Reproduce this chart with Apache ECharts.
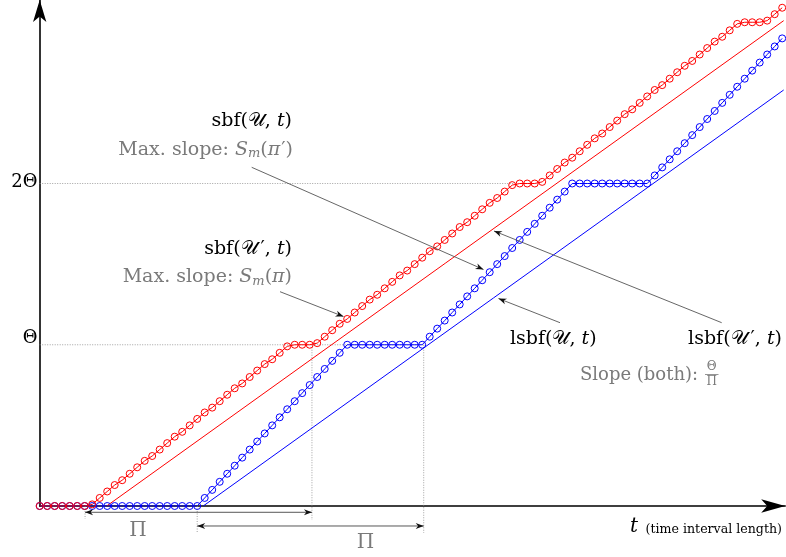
<!DOCTYPE html>
<html><head><meta charset="utf-8">
<script src="https://cdn.jsdelivr.net/npm/echarts@6/dist/echarts.min.js"></script>
<style>html,body{margin:0;padding:0;background:#fff}#c{width:786px;height:557px}</style>
</head><body><div id="c"></div>
<script>
// ---- data (x: time step index, one per marker; y: in units of Θ) ----
const steps = Array.from({length: 100}, (_, i) => i);
// sbf(U', t)  (red, circles)
const sbfUprime = [0,0,0,0,0,0,0,
 0.01,0.05,0.09,0.13,0.16,0.20,0.24,0.28,0.31,0.35,0.39,0.43,0.46,0.50,0.54,0.58,0.61,0.65,0.69,0.73,0.76,0.80,0.84,0.88,0.91,0.95,0.99,
 1,1,1,
 1.01,1.05,1.09,1.13,1.16,1.20,1.24,1.28,1.31,1.35,1.39,1.43,1.46,1.50,1.54,1.58,1.61,1.65,1.69,1.73,1.76,1.80,1.84,1.88,1.91,1.95,1.99,
 2,2,2,
 2.01,2.05,2.09,2.13,2.16,2.20,2.24,2.28,2.31,2.35,2.39,2.43,2.46,2.50,2.54,2.58,2.61,2.65,2.69,2.73,2.76,2.80,2.84,2.88,2.91,2.95,2.99,
 3,3,3,
 3.01,3.05,3.09];
// sbf(U, t)  (blue, circles)
const sbfU = [0,0,0,0,0,0,0,0,0,0,0,0,0,0,0,0,0,0,0,0,0,0,
 0.05,0.10,0.15,0.20,0.25,0.30,0.35,0.40,0.45,0.50,0.55,0.60,0.65,0.70,0.75,0.80,0.85,0.90,0.95,
 1,1,1,1,1,1,1,1,1,1,1,
 1.05,1.10,1.15,1.20,1.25,1.30,1.35,1.40,1.45,1.50,1.55,1.60,1.65,1.70,1.75,1.80,1.85,1.90,1.95,
 2,2,2,2,2,2,2,2,2,2,2,
 2.05,2.10,2.15,2.20,2.25,2.30,2.35,2.40,2.45,2.50,2.55,2.60,2.65,2.70,2.75,2.80,2.85,2.90];
// linear lower bounds (slope Θ/Π)
const lsbfUprime = [[8.93, 0], [99.2, 3.01]];
const lsbfU = [[21.8, 0], [99.2, 2.58]];
// guide lines (data units)
const guideH = [[[0, 1], [51.2, 1]], [[0, 2], [63.3, 2]]];
const guideV = [[[36.3, 1], [36.3, -0.087]], [[51.2, 1], [51.2, -0.167]], [[6.05, 0], [6.05, -0.08]], [[21, 0], [21, -0.167]]];
const spanArrows = [[[6.05, -0.039], [36.3, -0.039]], [[21, -0.124], [51.2, -0.124]]];
const yTickLabels = ['Θ', '2Θ'];

const RED = '#ff0000', BLUE = '#0000ff', GREY = '#7a7a7a', LEAD = '#555555';
const SERIF = '"DejaVu Serif", "Liberation Serif", serif';

const chart = echarts.init(document.getElementById('c'), null, {renderer: 'canvas'});
const circleSeries = (name, vals, col) => ({
  type: 'line', name, data: steps.map((t, i) => [t, vals[i]]),
  symbol: 'circle', symbolSize: 7, showSymbol: true, showAllSymbol: true,
  lineStyle: {color: col, width: 1}, itemStyle: {color: 'rgba(255,255,255,0)', borderColor: col, borderWidth: 1},
  emphasis: {disabled: true}, z: 3
});
chart.setOption({
  animation: false,
  backgroundColor: '#fff',
  grid: {left: 39.7, right: 0.8, top: 0, bottom: 51, containLabel: false},
  xAxis: {type: 'value', min: 0, max: 99.4,
    axisLine: {show: true, onZero: false, symbol: ['none', 'arrow'], symbolSize: [10, 24], lineStyle: {color: '#000', width: 1.6}},
    axisTick: {show: false}, axisLabel: {show: false}, splitLine: {show: false}},
  yAxis: {type: 'value', min: 0, max: 3.138,
    axisLine: {show: true, onZero: false, symbol: ['none', 'arrow'], symbolSize: [10, 22], lineStyle: {color: '#000', width: 1.6}},
    axisTick: {show: false}, axisLabel: {show: false}, splitLine: {show: false}},
  series: [
    {type: 'line', name: 'lsbf(U,t)', data: lsbfU, symbol: 'none', lineStyle: {color: BLUE, width: 1}, z: 2},
    {type: 'line', name: "lsbf(U',t)", data: lsbfUprime, symbol: 'none', lineStyle: {color: RED, width: 1}, z: 2},
    circleSeries('sbf(U,t)', sbfU, BLUE),
    circleSeries("sbf(U',t)", sbfUprime, RED)
  ]
});

const P = p => chart.convertToPixel({gridIndex: 0}, p);
const els = [];
function arrowHead(tip, from, L, W, col) {
  const dx = tip[0] - from[0], dy = tip[1] - from[1], d = Math.hypot(dx, dy);
  const ux = dx / d, uy = dy / d, nx = -uy, ny = ux;
  return {type: 'polygon', z: 6, shape: {points: [
    tip, [tip[0] - L * ux + W * nx, tip[1] - L * uy + W * ny],
    [tip[0] - 0.7 * L * ux, tip[1] - 0.7 * L * uy],
    [tip[0] - L * ux - W * nx, tip[1] - L * uy - W * ny]]}, style: {fill: col}};
}
function leader(from, tip) {
  els.push({type: 'line', z: 5, shape: {x1: from[0], y1: from[1], x2: tip[0], y2: tip[1]}, style: {stroke: LEAD, lineWidth: 0.9}});
  els.push(arrowHead(tip, from, 8, 3, '#111'));
}
guideH.concat(guideV).forEach(g => {
  const a = P(g[0]), b = P(g[1]);
  els.push({type: 'line', z: 1, shape: {x1: a[0], y1: a[1], x2: b[0], y2: b[1]}, style: {stroke: '#8a8a8a', lineWidth: 0.8, lineDash: [1, 1.5]}});
});
spanArrows.forEach(s => {
  const a = P(s[0]), b = P(s[1]);
  els.push({type: 'line', z: 5, shape: {x1: a[0], y1: a[1], x2: b[0], y2: b[1]}, style: {stroke: '#444', lineWidth: 0.9}});
  els.push(arrowHead(a, b, 8, 3, '#111'));
  els.push(arrowHead(b, a, 8, 3, '#111'));
});
// leaders
leader([251.7, 167.3], [483.5, 269.5]);
leader([280, 291.7], [343.5, 316.5]);
leader([560, 322.7], [498.5, 298.5]);
leader([721.7, 322.7], [494, 231]);

const FS = 19;
const rich = {
  r: {fontFamily: SERIF, fontSize: FS, fill: '#000'},
  i: {fontFamily: SERIF, fontSize: FS, fill: '#000', fontStyle: 'italic'},
  c: {fontFamily: SERIF, fontSize: FS, fill: '#000'},
  p: {fontFamily: SERIF, fontSize: FS, fill: '#000', padding: [0, 0, 0, 3]},
  g: {fontFamily: SERIF, fontSize: FS, fill: GREY},
  gi: {fontFamily: SERIF, fontSize: FS, fill: GREY, fontStyle: 'italic'},
  gp: {fontFamily: SERIF, fontSize: FS, fill: GREY, padding: [0, 0, 0, 1]},
  gs: {fontFamily: SERIF, fontSize: 13, fill: GREY, fontStyle: 'italic', padding: [8, 0, 0, 0]}
};
function txt(text, x, y, align, extra) {
  els.push({type: 'text', z: 10, style: Object.assign({text, x, y, align, verticalAlign: 'middle', rich,
    fontFamily: SERIF, fontSize: FS, fill: '#000'}, extra || {})});
}
txt('{r|sbf(}{c|𝒰}{r|, }{i|t}{r|)}', 292, 121, 'right');
txt('{g|Max. slope: }{gi|S}{gs|m}{g|(}{gi|π}{gp|′}{g|)}', 293, 150, 'right');
txt('{r|sbf(}{c|𝒰}{p|′}{r|, }{i|t}{r|)}', 292, 249, 'right');
txt('{g|Max. slope: }{gi|S}{gs|m}{g|(}{gi|π}{g|)}', 292, 277.5, 'right');
txt('{r|lsbf(}{c|𝒰}{r|, }{i|t}{r|)}', 510, 339, 'left');
txt('{r|lsbf(}{c|𝒰}{p|′}{r|, }{i|t}{r|)}', 782, 339, 'right');
txt('Slope (both):', 580, 375, 'left', {fill: GREY, fontSize: 18});
txt('Θ', 711.7, 367, 'center', {fill: GREY, fontSize: 12});
txt('Π', 711.7, 382, 'center', {fill: GREY, fontSize: 12});
els.push({type: 'line', z: 10, shape: {x1: 705, y1: 374.5, x2: 718.5, y2: 374.5}, style: {stroke: GREY, lineWidth: 0.8}});
// y tick labels
const yl1 = P([0, 1]), yl2 = P([0, 2]);
txt(yTickLabels[0], 37.5, yl1[1] - 6.5, 'right', {fontSize: 18});
txt(yTickLabels[1], 37.5, yl2[1] - 1.5, 'right', {fontSize: 18});
// Π span labels
txt('Π', 138, 531, 'center', {fill: GREY, fontSize: 20});
txt('Π', 365.5, 543, 'center', {fill: GREY, fontSize: 20});
// x axis title
txt('t', 634, 527, 'center', {fontStyle: 'italic', fontSize: 20});
txt('(time interval length)', 782, 529.5, 'right', {fontSize: 12.6});

chart.setOption({graphic: {elements: els}});
</script></body></html>
